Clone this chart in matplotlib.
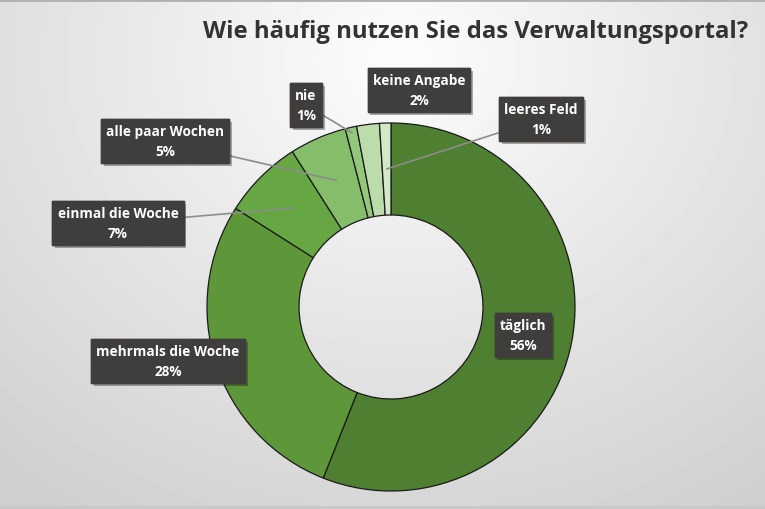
import numpy as np
import matplotlib.pyplot as plt
import matplotlib.patheffects as pe

# data
categories = ["täglich", "mehrmals die Woche", "einmal die Woche", "alle paar Wochen",
              "nie", "keine Angabe", "leeres Feld"]
shares = [56, 28, 7, 5, 1, 2, 1]
colors = ["#4f7f30", "#5e973a", "#66a743", "#86bd6b", "#93c77c", "#bcdcab", "#d2e8c6"]
title = "Wie häufig nutzen Sie das Verwaltungsportal?"

W, H = 765, 510
fig = plt.figure(figsize=(W / 100, H / 100), dpi=100)

# background: soft radial gradient, light at the top
bg = fig.add_axes([0, 0, 1, 1])
yy, xx = np.mgrid[0:H, 0:W]
d = np.sqrt(((xx - 400) / 560.0) ** 2 + ((yy - 60) / 480.0) ** 2)
shade = np.clip(0.99 - 0.16 * d, 0.81, 0.99)
bg.imshow(shade, cmap="gray", vmin=0, vmax=1, extent=[0, W, H, 0], aspect="auto")
bg.plot([0, W], [1, 1], color="#b0b0b0", lw=2)
bg.plot([0, W], [H - 2, H - 2], color="#c8c8c8", lw=2)
bg.set_xlim(0, W)
bg.set_ylim(H, 0)
bg.axis("off")

# donut axes placed in pixels
cx, cy, r = 391, 308, 184
ax = fig.add_axes([(cx - r) / W, (H - cy - r) / H, 2 * r / W, 2 * r / H])
wedges, _ = ax.pie(shares, colors=colors, startangle=90, counterclock=False, radius=1,
                   wedgeprops=dict(width=0.5, edgecolor="#1a1a1a", linewidth=0.9))
ax.set_xlim(-1, 1)
ax.set_ylim(-1, 1)
ax.axis("off")

# label box centres (pixels) and the radius where the leader line ends (None = no line)
label_pos = [(523, 336), (168, 362), (118, 224), (165, 142), (306, 106), (419, 91), (541, 120)]
line_r = [None, None, 0.76, 0.75, 0.97, None, 0.75]

for w, cat, v, (px, py), lr in zip(wedges, categories, shares, label_pos, line_r):
    ang = np.deg2rad((w.theta1 + w.theta2) / 2)
    txt = f"{cat}\n{v}%"
    box = dict(boxstyle="square,pad=0.38", fc="#403d3d", ec="#403d3d")
    xyt = (px / W, 1 - py / H)
    kw = dict(ha="center", va="center", color="white", fontsize=9.8, fontweight="bold",
              family="Open Sans", linespacing=1.5, bbox=box)
    if lr is None:
        t = fig.text(xyt[0], xyt[1], txt, **kw)
    else:
        t = ax.annotate(txt, xy=(lr * np.cos(ang), lr * np.sin(ang)), xycoords="data",
                        xytext=xyt, textcoords="figure fraction", annotation_clip=False,
                        arrowprops=dict(arrowstyle="-", color="#8c8c8c", lw=1.2,
                                        shrinkA=0, shrinkB=0), **kw)
    t.get_bbox_patch().set_path_effects([pe.withSimplePatchShadow(offset=(2, -2), alpha=0.35),
                                         pe.Normal()])

fig.text(748 / W, 1 - 32 / H, title, ha="right", va="center", fontsize=17.2,
         fontweight="bold", family="Open Sans", color="#333333")

fig.savefig("out.png", dpi=100)
